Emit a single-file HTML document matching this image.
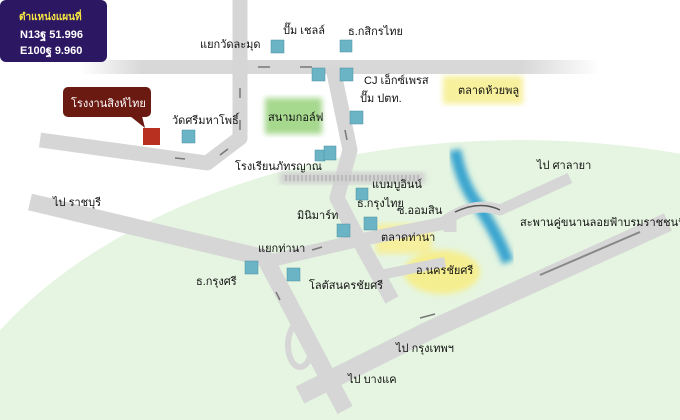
<!DOCTYPE html>
<html style="overflow:hidden"><head><meta charset="utf-8"><style>
html,body{margin:0;padding:0;width:680px;height:420px;overflow:hidden;background:#fff;position:relative}
svg{display:block;position:absolute;left:0;top:0;overflow:hidden}
text{font-family:"Liberation Sans","Noto Sans CJK SC",sans-serif;font-size:11px;fill:#111}
</style></head><body>
<svg width="680" height="420" viewBox="0 0 680 420">
<defs>
<filter id="b3"><feGaussianBlur stdDeviation="3"/></filter>
<linearGradient id="fl" x1="0" x2="1"><stop offset="0" stop-color="#d8d8d8" stop-opacity="0"/><stop offset="0.12" stop-color="#d8d8d8"/><stop offset="0.85" stop-color="#d8d8d8"/><stop offset="1" stop-color="#d8d8d8" stop-opacity="0"/></linearGradient>
<clipPath id="cp"><rect x="0" y="0" width="680" height="420"/></clipPath>
</defs>
<g clip-path="url(#cp)">
<ellipse cx="520" cy="520" rx="600" ry="380" fill="#e5f5e1"/>
<rect x="443" y="76" width="80" height="28" fill="#f7f09c" filter="url(#b3)"/>
<rect x="265" y="98" width="57" height="36" fill="#a6d88e" filter="url(#b3)"/>
<rect x="376" y="224" width="56" height="30" fill="#f5ef9e" filter="url(#b3)"/>
<ellipse cx="442" cy="272" rx="38" ry="22" fill="#f5ee90" filter="url(#b3)"/>
<path d="M455 150 Q462 185 478 205 Q498 235 508 262" stroke="#3aa5cf" stroke-width="12" fill="none" filter="url(#b3)"/>
<g fill="none" stroke="#d6d6d6" stroke-linejoin="round">
<rect x="80" y="60" width="520" height="14" fill="url(#fl)" stroke="none"/>
<path d="M240 0 L240 138 L207 163 L40 140" stroke-width="15"/>
<path d="M333 68 L350 150 L337 198 L360 242 L392 300" stroke-width="15"/>
<path d="M30 202 L265 258 L345 410" stroke-width="17"/>
<path d="M265 262 L360 240 L450 222 L450 232" stroke-width="13"/>
<path d="M440 225 Q470 200 500 210 L570 178" stroke-width="11"/>
<path d="M300 395 L430 330 L668 222" stroke-width="19"/>
<path d="M380 275 L445 262" stroke-width="10"/>
<ellipse cx="300" cy="345" rx="12" ry="22" stroke-width="6"/>
</g>
<path d="M455 212 Q480 200 500 210" stroke="#555" stroke-width="1.5" fill="none"/>
<rect x="280" y="172" width="145" height="12" fill="#d0d0d0" filter="url(#b3)"/>
<line x1="285" y1="178" x2="420" y2="178" stroke="#bbb" stroke-width="6" stroke-dasharray="2 2"/>
<g stroke="#777" stroke-width="1.5">
<line x1="258" y1="67" x2="270" y2="67"/><line x1="300" y1="67" x2="312" y2="67"/>
<line x1="240" y1="88" x2="240" y2="98"/><line x1="240" y1="120" x2="240" y2="130"/>
<line x1="220" y1="155" x2="228" y2="149"/><line x1="175" y1="158" x2="185" y2="159"/>
<line x1="347" y1="140" x2="345" y2="130"/><line x1="280" y1="300" x2="276" y2="292"/>
<line x1="312" y1="250" x2="322" y2="247"/><line x1="420" y1="318" x2="435" y2="314"/>
<line x1="540" y1="275" x2="640" y2="232" stroke="#888" stroke-width="2"/>
</g>
<g fill="#6bb4c6" stroke="#4a8fa0" stroke-width="0.5">
<rect x="271" y="40" width="13" height="13"/><rect x="340" y="40" width="12" height="12"/>
<rect x="312" y="68" width="13" height="13"/><rect x="340" y="68" width="13" height="13"/>
<rect x="350" y="111" width="13" height="13"/><rect x="182" y="130" width="13" height="13"/>
<rect x="315" y="150" width="10" height="11"/><rect x="324" y="146" width="12" height="14"/>
<rect x="356" y="188" width="12" height="12"/><rect x="364" y="217" width="13" height="13"/>
<rect x="337" y="224" width="13" height="13"/><rect x="245" y="261" width="13" height="13"/>
<rect x="287" y="268" width="13" height="13"/>
</g>
<rect x="143" y="128" width="17" height="17" fill="#b83020"/>
<rect x="63" y="87" width="88" height="30" rx="5" fill="#6b1a12"/>
<path d="M130 116 L145 128 L142 116 Z" fill="#6b1a12"/>
<text x="71" y="107" style="fill:#fff">โรงงานสิงห์ไทย</text>
<rect x="0" y="0" width="107" height="62" rx="6" fill="#2c1763"/>
<text x="19" y="20" style="fill:#f5e542;font-weight:bold;font-size:10px">ตำแหน่งแผนที่</text>
<text x="20" y="38" style="fill:#fff;font-weight:bold">N13ฐ 51.996</text>
<text x="20" y="54" style="fill:#fff;font-weight:bold">E100ฐ 9.960</text>
<text x="283" y="34">ปั๊ม เชลล์</text>
<text x="348" y="35">ธ.กสิกรไทย</text>
<text x="200" y="48">แยกวัดละมุด</text>
<text x="364" y="84">CJ เอ็กซ์เพรส</text>
<text x="360" y="102">ปั๊ม ปตท.</text>
<text x="458" y="94">ตลาดห้วยพลู</text>
<text x="268" y="121">สนามกอล์ฟ</text>
<text x="172" y="124">วัดศรีมหาโพธิ์</text>
<text x="235" y="170">โรงเรียนภัทรญาณ</text>
<text x="537" y="169">ไป ศาลายา</text>
<text x="53" y="206">ไป ราชบุรี</text>
<text x="372" y="188">แบมบูอินน์</text>
<text x="357" y="207">ธ.กรุงไทย</text>
<text x="297" y="219">มินิมาร์ท</text>
<text x="397" y="214">ซ.ออมสิน</text>
<text x="381" y="241">ตลาดท่านา</text>
<text x="520" y="226">สะพานคู่ขนานลอยฟ้าบรมราชชนนี</text>
<text x="258" y="252">แยกท่านา</text>
<text x="196" y="285">ธ.กรุงศรี</text>
<text x="309" y="289">โลตัสนครชัยศรี</text>
<text x="416" y="274">อ.นครชัยศรี</text>
<text x="396" y="352">ไป กรุงเทพฯ</text>
<text x="348" y="383">ไป บางแค</text>
</g>
</svg>
</body></html>
